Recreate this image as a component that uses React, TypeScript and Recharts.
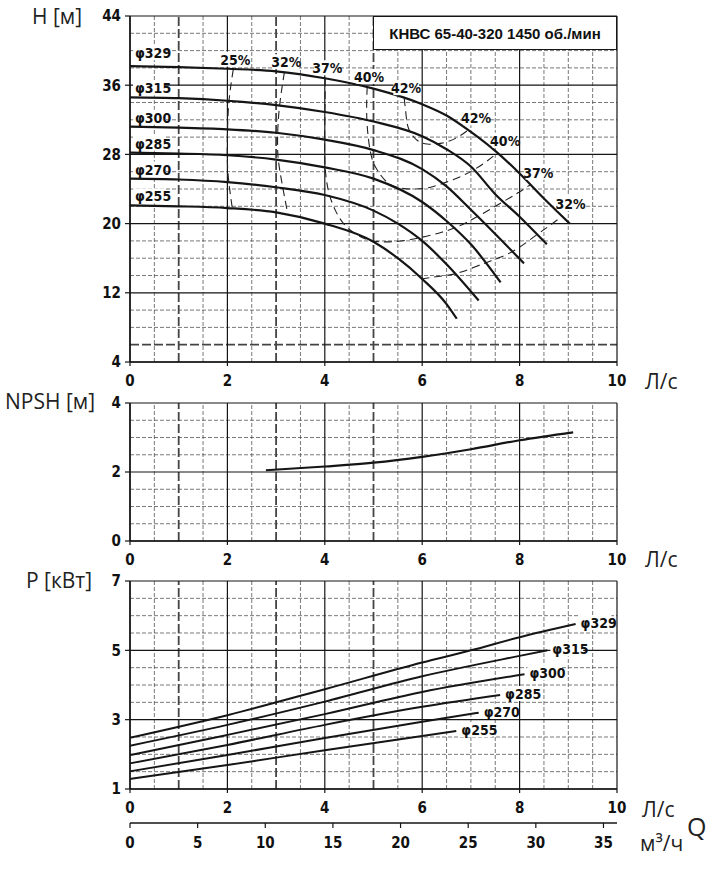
import React from 'react';
import { ComposedChart, Line, XAxis, YAxis, ReferenceLine, ReferenceDot } from 'recharts';

// ---- axes / grid values ----
const qTicks = [0, 2, 4, 6, 8, 10];
const qMinor = [0.5, 1.5, 2.5, 3.5, 4.5, 5.5, 6.5, 7, 7.5, 8.5, 9, 9.5];
const qHeavy = [1, 3, 5];
const m3Ticks = [0, 5, 10, 15, 20, 25, 30, 35];

const hTicks = [4, 12, 20, 28, 36, 44];
const hMinor = [8, 10, 14, 16, 18, 22, 24, 26, 30, 32, 34, 38, 40, 42];
const hHeavy = [6];

const npshTicks = [0, 2, 4];
const npshMinor = [0.5, 1, 1.5, 2.5, 3, 3.5];

const pTicks = [1, 3, 5, 7];
const pMinor = [1.5, 2, 2.5, 3.5, 4, 4.5, 5.5, 6, 6.5];

// ---- H(Q) per impeller diameter ----
const h329 = [
  { q: 0, v: 38.2 }, { q: 1, v: 38.1 }, { q: 2, v: 37.9 }, { q: 3, v: 37.6 }, { q: 4, v: 36.8 },
  { q: 5, v: 35.6 }, { q: 6, v: 33.8 }, { q: 6.5, v: 32.5 }, { q: 7, v: 30.6 }, { q: 7.5, v: 28.4 },
  { q: 8, v: 25.8 }, { q: 8.5, v: 22.9 }, { q: 9.03, v: 20.0 },
];
const h315 = [
  { q: 0, v: 34.6 }, { q: 1, v: 34.5 }, { q: 2, v: 34.2 }, { q: 3, v: 33.7 }, { q: 4, v: 32.9 },
  { q: 5, v: 31.8 }, { q: 6, v: 30.1 }, { q: 6.5, v: 28.6 }, { q: 7, v: 26.6 }, { q: 7.5, v: 23.4 },
  { q: 8, v: 20.8 }, { q: 8.56, v: 17.6 },
];
const h300 = [
  { q: 0, v: 31.2 }, { q: 1, v: 31.1 }, { q: 2, v: 30.9 }, { q: 3, v: 30.5 }, { q: 4, v: 29.7 },
  { q: 5, v: 28.5 }, { q: 6, v: 26.3 }, { q: 6.5, v: 24.3 }, { q: 7, v: 21.6 }, { q: 7.5, v: 18.8 },
  { q: 8.09, v: 15.4 },
];
const h285 = [
  { q: 0, v: 28.2 }, { q: 1, v: 28.1 }, { q: 2, v: 27.9 }, { q: 3, v: 27.4 }, { q: 4, v: 26.5 },
  { q: 5, v: 25.2 }, { q: 6, v: 22.5 }, { q: 6.5, v: 20.3 }, { q: 7, v: 17.6 }, { q: 7.61, v: 13.2 },
];
const h270 = [
  { q: 0, v: 25.2 }, { q: 1, v: 25.1 }, { q: 2, v: 24.8 }, { q: 3, v: 24.2 }, { q: 4, v: 23.3 },
  { q: 5, v: 21.5 }, { q: 5.5, v: 20.0 }, { q: 6, v: 18.0 }, { q: 6.5, v: 15.3 }, { q: 7.16, v: 11.1 },
];
const h255 = [
  { q: 0, v: 22.1 }, { q: 1, v: 22.0 }, { q: 2, v: 21.8 }, { q: 3, v: 21.3 }, { q: 4, v: 20.0 },
  { q: 5, v: 17.9 }, { q: 5.5, v: 16.0 }, { q: 6, v: 13.6 }, { q: 6.5, v: 10.7 }, { q: 6.71, v: 9.0 },
];

// ---- iso-efficiency lines ----
const eff25 = [{ q: 2.12, v: 37.8 }, { q: 2.03, v: 34 }, { q: 2.0, v: 30 }, { q: 2.01, v: 26 }, { q: 2.1, v: 21.8 }];
const eff32a = [{ q: 3.17, v: 37.5 }, { q: 3.06, v: 33 }, { q: 3.03, v: 29 }, { q: 3.08, v: 26 }, { q: 3.24, v: 21.1 }];
const eff32b = [
  { q: 5.98, v: 13.6 }, { q: 6.47, v: 14.0 }, { q: 6.8, v: 14.4 }, { q: 7.27, v: 15.4 }, { q: 7.6, v: 16.1 },
  { q: 7.95, v: 17.1 }, { q: 8.3, v: 18.5 }, { q: 8.6, v: 19.7 }, { q: 8.88, v: 20.9 },
];
const eff37 = [
  { q: 4.01, v: 36.8 }, { q: 4.0, v: 32 }, { q: 4.0, v: 27.3 }, { q: 4.07, v: 23.9 }, { q: 4.22, v: 21.5 },
  { q: 4.45, v: 19.6 }, { q: 4.8, v: 18.3 }, { q: 5.15, v: 17.9 }, { q: 5.7, v: 18.1 }, { q: 6.4, v: 19.0 },
  { q: 6.9, v: 20.1 }, { q: 7.5, v: 22.0 }, { q: 7.95, v: 23.5 }, { q: 8.22, v: 24.5 },
];
const eff40 = [
  { q: 4.87, v: 35.8 }, { q: 4.86, v: 32.7 }, { q: 4.9, v: 29.6 }, { q: 4.98, v: 27.3 }, { q: 5.1, v: 26.0 },
  { q: 5.38, v: 24.4 }, { q: 5.83, v: 24.0 }, { q: 6.23, v: 24.3 }, { q: 6.85, v: 25.6 }, { q: 7.3, v: 27.1 },
  { q: 7.54, v: 28.2 },
];
const eff42 = [
  { q: 5.63, v: 34.5 }, { q: 5.67, v: 32.5 }, { q: 5.72, v: 31.0 }, { q: 5.88, v: 29.7 }, { q: 6.1, v: 29.2 },
  { q: 6.4, v: 29.3 }, { q: 6.7, v: 29.9 }, { q: 6.94, v: 30.8 },
];

// ---- NPSH ----
const npsh = [
  { q: 2.79, v: 2.05 }, { q: 4, v: 2.16 }, { q: 5, v: 2.27 }, { q: 6, v: 2.44 },
  { q: 7, v: 2.66 }, { q: 8, v: 2.92 }, { q: 9.1, v: 3.15 },
];

// ---- power ----
const p329 = [{ q: 0, v: 2.48 }, { q: 2, v: 3.13 }, { q: 4, v: 3.88 }, { q: 6, v: 4.65 }, { q: 7, v: 5.0 }, { q: 8, v: 5.38 }, { q: 9.15, v: 5.76 }];
const p315 = [{ q: 0, v: 2.25 }, { q: 2, v: 2.85 }, { q: 4, v: 3.52 }, { q: 6, v: 4.25 }, { q: 8, v: 4.84 }, { q: 8.57, v: 5.0 }];
const p300 = [{ q: 0, v: 1.98 }, { q: 2, v: 2.56 }, { q: 4, v: 3.16 }, { q: 6, v: 3.8 }, { q: 8.1, v: 4.31 }];
const p285 = [{ q: 0, v: 1.74 }, { q: 2, v: 2.27 }, { q: 4, v: 2.85 }, { q: 6, v: 3.37 }, { q: 7.6, v: 3.71 }];
const p270 = [{ q: 0, v: 1.51 }, { q: 2, v: 1.98 }, { q: 4, v: 2.47 }, { q: 6, v: 2.94 }, { q: 7.16, v: 3.2 }];
const p255 = [{ q: 0, v: 1.29 }, { q: 2, v: 1.69 }, { q: 4, v: 2.12 }, { q: 6, v: 2.53 }, { q: 6.7, v: 2.67 }];

const diameters = ['φ329', 'φ315', 'φ300', 'φ285', 'φ270', 'φ255'];
const headCurves = [h329, h315, h300, h285, h270, h255];
const powerCurves = [p329, p315, p300, p285, p270, p255];

// empty series that carries the m³/h scale (0..36 m³/h = 0..10 l/s)
const m3Scale = [{ m: 0 }, { m: 36 }];

// efficiency lines and which ends carry a label
const effLines = [
  { data: eff25, labels: ['25%', null] },
  { data: eff32a, labels: ['32%', null] },
  { data: eff32b, labels: [null, '32%'] },
  { data: eff37, labels: ['37%', '37%'] },
  { data: eff40, labels: ['40%', '40%'] },
  { data: eff42, labels: ['42%', '42%'] },
];

const NARROW = "'Liberation Sans Narrow', 'DejaVu Sans Condensed', 'Arial Narrow', sans-serif";
const TITLE = "'Open Sans', 'Noto Sans', sans-serif";
const tickStyle = { fontFamily: NARROW, fontWeight: 700, fontSize: 15, fill: '#111' };
const INK = '#151515';

const Tag = ({ cx, cy, text, dx = 0, dy = 0, anchor = 'start' }: any) => {
  const w = text.length * 7.2 + 4;
  const x = cx + dx;
  const y = cy + dy;
  const rx = anchor === 'start' ? x - 2 : x - w / 2;
  return (
    <g>
      <rect x={rx} y={y - 8} width={w} height={15} fill="#fff" />
      <text x={x} y={y} dy="0.36em" textAnchor={anchor} style={{ fontFamily: NARROW, fontWeight: 700, fontSize: 14, fill: '#111' }}>
        {text}
      </text>
    </g>
  );
};

const gridLines = (xs: number[], ys: number[], style: any, key: string) => [
  ...xs.map((v) => <ReferenceLine key={`${key}x${v}`} x={v} {...style} />),
  ...ys.map((v) => <ReferenceLine key={`${key}y${v}`} y={v} {...style} />),
];

const minorStyle = { stroke: '#555', strokeWidth: 0.8, strokeDasharray: '4 2' };
const heavyStyle = { stroke: '#444', strokeWidth: 1.8, strokeDasharray: '9 3' };
const majorStyle = { stroke: INK, strokeWidth: 1.2 };

const xAxisCommon = {
  dataKey: 'q',
  type: 'number' as const,
  domain: [0, 10],
  ticks: qTicks,
  allowDataOverflow: true,
  tick: tickStyle,
  tickSize: 4,
  tickMargin: 9,
  axisLine: { stroke: INK, strokeWidth: 1.5 },
  tickLine: { stroke: INK, strokeWidth: 1.2 },
  interval: 0 as const,
};
const yAxisCommon = {
  type: 'number' as const,
  width: 130,
  allowDataOverflow: true,
  tick: tickStyle,
  tickSize: 5,
  tickMargin: 4,
  axisLine: { stroke: INK, strokeWidth: 1.5 },
  tickLine: { stroke: INK, strokeWidth: 1.2 },
  interval: 0 as const,
};

const txt = (s: string, left: number, top: number, size = 21) => (
  <div style={{ position: 'absolute', left, top, fontFamily: TITLE, fontSize: size, lineHeight: 1, color: '#222', whiteSpace: 'nowrap' }}>
    {s}
  </div>
);

export default function App() {
  return (
    <div style={{ position: 'absolute', left: 0, top: 0, width: 721, height: 888, background: '#fff' }}>
      {/* H(Q) */}
      <div style={{ position: 'absolute', left: 0, top: 0 }}>
        <ComposedChart width={721} height={400} margin={{ top: 16, right: 104, left: 0, bottom: 0 }}>
          <XAxis {...xAxisCommon} height={38} />
          <YAxis {...yAxisCommon} domain={[4, 44]} ticks={hTicks} />
          {gridLines(qMinor, hMinor, minorStyle, 'hm')}
          {gridLines(qHeavy, hHeavy, heavyStyle, 'hh')}
          {gridLines(qTicks, hTicks, majorStyle, 'hM')}
          {effLines.map((e, i) => (
            <Line key={`e${i}`} data={e.data} dataKey="v" type="natural" stroke="#222" strokeWidth={1.1}
              strokeDasharray="8 5" dot={false} activeDot={false} isAnimationActive={false} />
          ))}
          {headCurves.map((d, i) => (
            <Line key={`h${i}`} data={d} dataKey="v" type="monotone" stroke={INK} strokeWidth={2.2}
              dot={false} activeDot={false} isAnimationActive={false} />
          ))}
          {headCurves.map((d, i) => (
            <ReferenceDot key={`hl${i}`} x={d[0].q} y={d[0].v} r={0}
              shape={(p: any) => <Tag cx={p.cx} cy={p.cy} text={diameters[i]} dx={5} dy={i === 0 ? -13 : -9} />} />
          ))}
          {effLines.map((e, i) => {
            const first = e.data[0];
            const last = e.data[e.data.length - 1];
            return [
              e.labels[0] ? (
                <ReferenceDot key={`ea${i}`} x={first.q} y={first.v} r={0}
                  shape={(p: any) => <Tag cx={p.cx} cy={p.cy} text={e.labels[0]} dx={2} dy={-10} anchor="middle" />} />
              ) : null,
              e.labels[1] ? (
                <ReferenceDot key={`eb${i}`} x={last.q} y={last.v} r={0}
                  shape={(p: any) => <Tag cx={p.cx} cy={p.cy} text={e.labels[1]} dx={8} dy={-12} anchor="middle" />} />
              ) : null,
            ];
          })}
        </ComposedChart>
        <div style={{
          position: 'absolute', left: 373, top: 16, width: 244, height: 34, boxSizing: 'border-box',
          border: '1.5px solid #151515', background: '#fff', display: 'flex', alignItems: 'center',
          justifyContent: 'center', fontFamily: "'Liberation Sans', Arial, sans-serif", fontWeight: 700,
          fontSize: 15, color: '#111', whiteSpace: 'nowrap',
        }}>
          КНВС 65-40-320 1450 об./мин
        </div>
      </div>

      {/* NPSH */}
      <div style={{ position: 'absolute', left: 0, top: 390 }}>
        <ComposedChart width={721} height={190} margin={{ top: 13, right: 104, left: 0, bottom: 0 }}>
          <XAxis {...xAxisCommon} height={39} />
          <YAxis {...yAxisCommon} domain={[0, 4]} ticks={npshTicks} />
          {gridLines(qMinor, npshMinor, minorStyle, 'nm')}
          {gridLines(qHeavy, [], heavyStyle, 'nh')}
          {gridLines(qTicks, npshTicks, majorStyle, 'nM')}
          <Line data={npsh} dataKey="v" type="monotone" stroke={INK} strokeWidth={2.2}
            dot={false} activeDot={false} isAnimationActive={false} />
        </ComposedChart>
      </div>

      {/* P(Q) */}
      <div style={{ position: 'absolute', left: 0, top: 570 }}>
        <ComposedChart width={721} height={318} margin={{ top: 11, right: 104, left: 0, bottom: 0 }}>
          <XAxis {...xAxisCommon} height={34} />
          <XAxis xAxisId="m3" dataKey="m" type="number" domain={[0, 36]} ticks={m3Ticks} height={65} tick={tickStyle}
            tickSize={5} tickMargin={9} interval={0} axisLine={{ stroke: INK, strokeWidth: 1.5 }}
            tickLine={{ stroke: INK, strokeWidth: 1.2 }} allowDataOverflow />
          <YAxis {...yAxisCommon} domain={[1, 7]} ticks={pTicks} />
          {gridLines(qMinor, pMinor, minorStyle, 'pm')}
          {gridLines(qHeavy, [], heavyStyle, 'ph')}
          {gridLines(qTicks, pTicks, majorStyle, 'pM')}
          <Line xAxisId="m3" data={m3Scale} dataKey="v" stroke="none" dot={false} activeDot={false}
            isAnimationActive={false} legendType="none" />
          {powerCurves.map((d, i) => (
            <Line key={`p${i}`} data={d} dataKey="v" type="monotone" stroke={INK} strokeWidth={2}
              dot={false} activeDot={false} isAnimationActive={false} />
          ))}
          {powerCurves.map((d, i) => {
            const last = d[d.length - 1];
            return (
              <ReferenceDot key={`pl${i}`} x={last.q} y={last.v} r={0}
                shape={(p: any) => <Tag cx={p.cx} cy={p.cy} text={diameters[i]} dx={5} dy={-1} />} />
            );
          })}
        </ComposedChart>
      </div>

      {txt('H [м]', 32, 6)}
      {txt('NPSH [м]', 5, 391)}
      {txt('P [кВт]', 26, 570)}
      {txt('Л/с', 645, 371)}
      {txt('Л/с', 645, 549)}
      {txt('Л/с', 642, 799)}
      {txt('м³/ч', 640, 833)}
      {txt('Q', 687, 814, 25)}
    </div>
  );
}
